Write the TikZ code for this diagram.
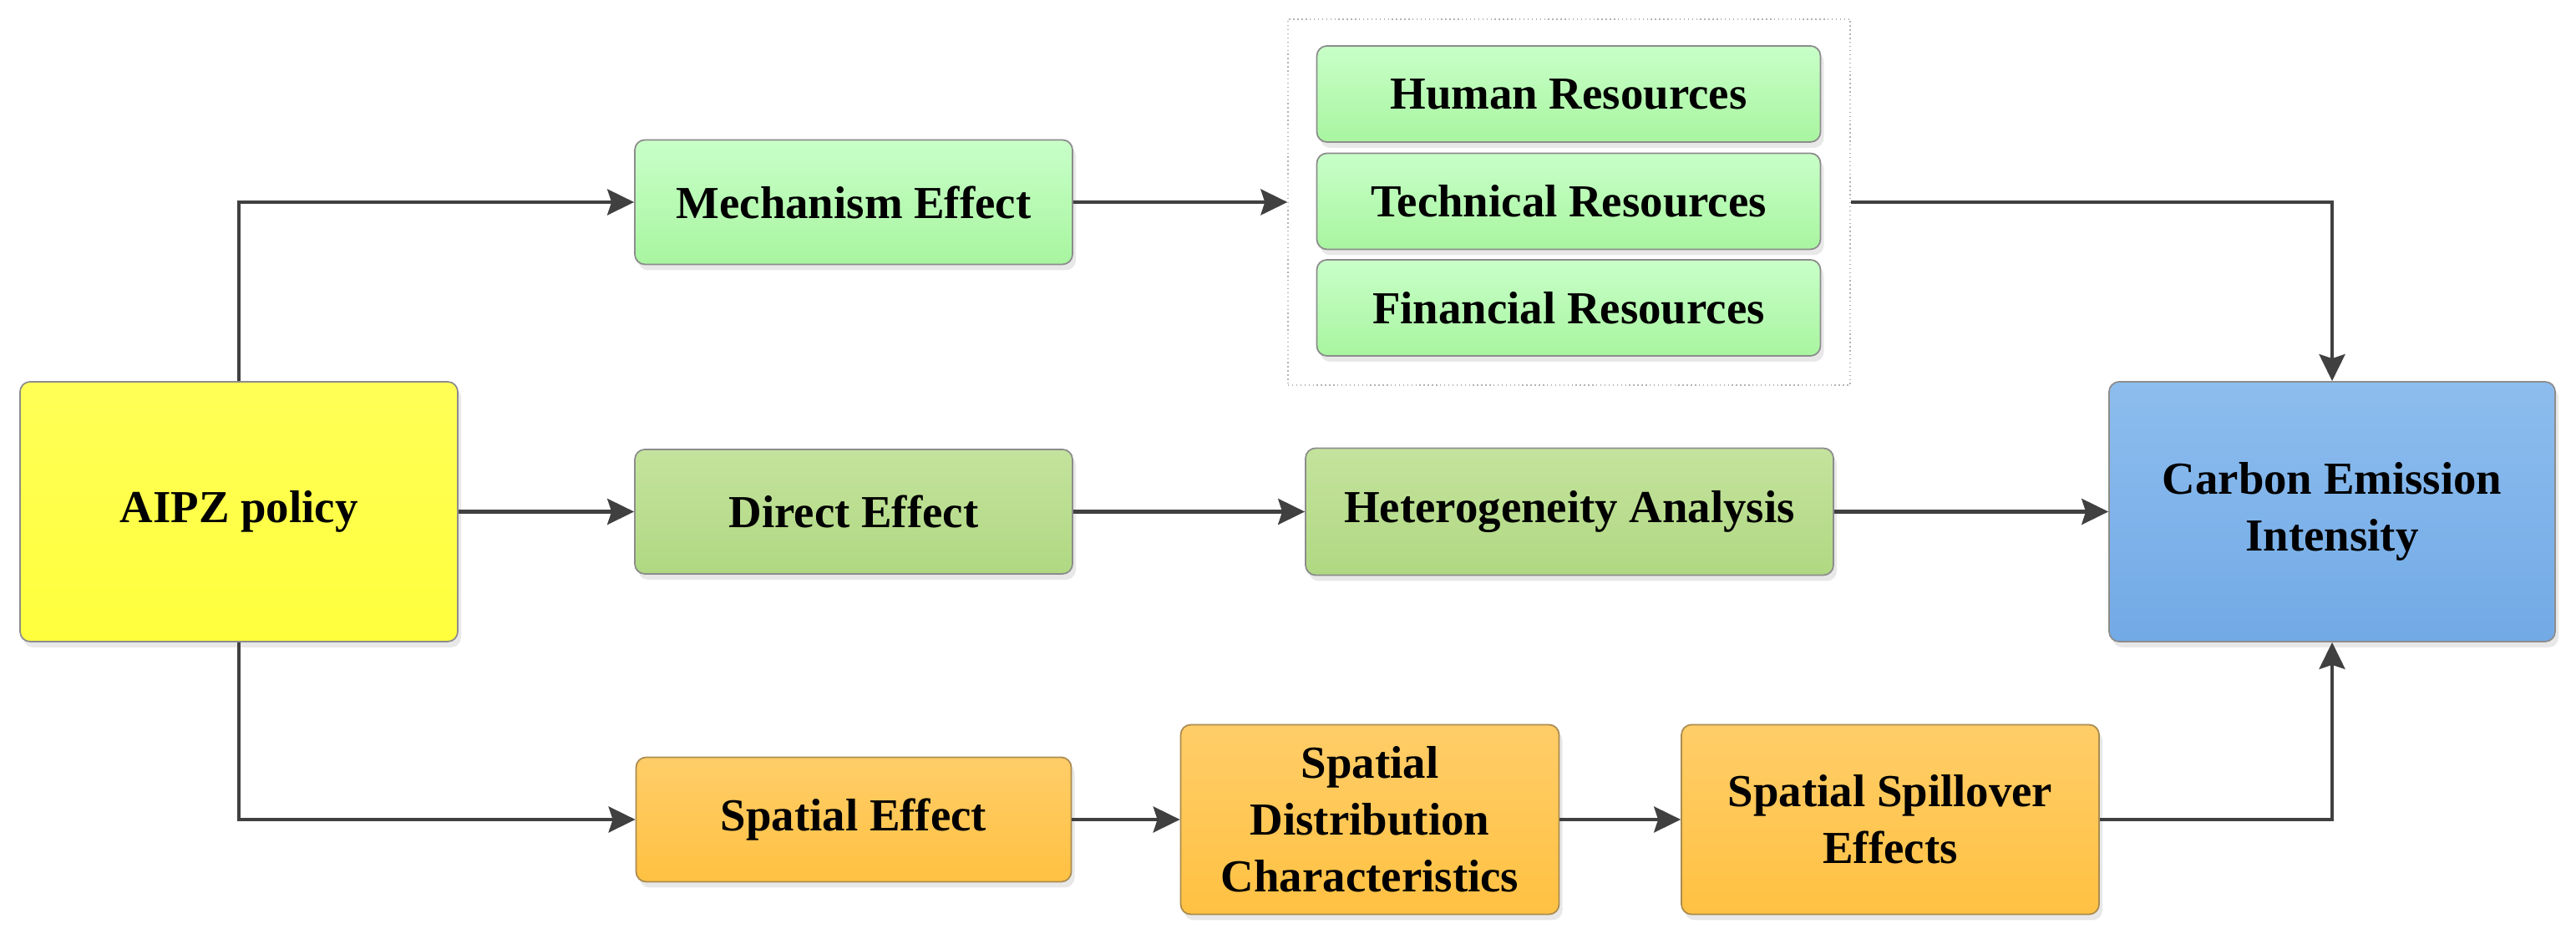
\documentclass[tikz,border=0pt]{standalone}
\usepackage{fontspec}
\setmainfont{Liberation Serif}
\usetikzlibrary{arrows.meta,positioning,shadows,fit}

\definecolor{linegray}{HTML}{404040}
\definecolor{boxline}{HTML}{8C8C8C}

\begin{document}
\begin{tikzpicture}[
    font=\fontsize{15.6}{19.4}\selectfont\bfseries,
    box/.style={draw=boxline, line width=0.5pt, rounded corners=0.12cm, align=center,
        inner sep=0pt, drop shadow={shadow xshift=0.04cm, shadow yshift=-0.07cm, opacity=0.18}},
    yellowbox/.style={box, top color=yellow!66!white, bottom color=yellow!76!white},
    lightgreen/.style={box, top color={rgb,255:red,200;green,255;blue,200}, bottom color={rgb,255:red,168;green,245;blue,160}},
    midgreen/.style={box, top color={rgb,255:red,196;green,227;blue,157}, bottom color={rgb,255:red,176;green,216;blue,130}},
    bluebox/.style={box, top color={rgb,255:red,141;green,189;blue,238}, bottom color={rgb,255:red,114;green,170;blue,230}},
    orangebox/.style={box, draw={rgb,255:red,170;green,140;blue,80}, top color={rgb,255:red,255;green,205;blue,104}, bottom color={rgb,255:red,255;green,193;blue,66}},
    arr/.style={-{Stealth[length=0.32cm, width=0.31cm, inset=0.05cm]}, draw=linegray, line width=1.15pt}
]
    \useasboundingbox (0,0) rectangle (30.84,11.24);

    % Source and target
    \node[yellowbox, minimum width=5.24cm, minimum height=3.11cm] (aipz) at (2.86,5.115) {AIPZ policy};
    \node[bluebox, minimum width=5.34cm, minimum height=3.11cm] (carbon) at (27.92,5.115) {Carbon Emission\\Intensity};

    % Upper path: mechanism
    \node[lightgreen, minimum width=5.24cm, minimum height=1.49cm] (mech) at (10.22,8.82) {Mechanism Effect};
    \node[lightgreen, minimum width=6.03cm, minimum height=1.15cm] (human) at (18.78,10.115) {Human Resources};
    \node[lightgreen, minimum width=6.03cm, minimum height=1.15cm] (tech) at (18.78,8.83) {Technical Resources};
    \node[lightgreen, minimum width=6.03cm, minimum height=1.15cm] (fin) at (18.78,7.555) {Financial Resources};
    \node[draw=black!30, densely dotted, line width=0.4pt, inner sep=0pt, fit={(15.42,6.63) (22.15,11.01)}] (resbox) {};

    % Middle path: direct effect
    \node[midgreen, minimum width=5.24cm, minimum height=1.49cm] (direct) at (10.22,5.115) {Direct Effect};
    \node[midgreen, minimum width=6.32cm, minimum height=1.52cm] (hetero) at (18.79,5.115) {Heterogeneity Analysis};

    % Lower path: spatial effect
    \node[orangebox, minimum width=5.21cm, minimum height=1.49cm] (spatial) at (10.22,1.43) {Spatial Effect};
    \node[orangebox, minimum width=4.53cm, minimum height=2.27cm] (spdist) at (16.40,1.43) {Spatial\\Distribution\\Characteristics};
    \node[orangebox, minimum width=5.00cm, minimum height=2.27cm] (spill) at (22.63,1.43) {Spatial Spillover\\Effects};

    % Connectors
    \draw[arr] (aipz.north) |- (mech.west);
    \draw[arr] (aipz.east) -- (direct.west);
    \draw[arr] (aipz.south) |- (spatial.west);
    \draw[arr] (mech.east) -- (resbox.west);
    \draw[arr] (resbox.east) -| (carbon.north);
    \draw[arr] (direct.east) -- (hetero.west);
    \draw[arr] (hetero.east) -- (carbon.west);
    \draw[arr] (spatial.east) -- (spdist.west);
    \draw[arr] (spdist.east) -- (spill.west);
    \draw[arr] (spill.east) -| (carbon.south);

\end{tikzpicture}
\end{document}
